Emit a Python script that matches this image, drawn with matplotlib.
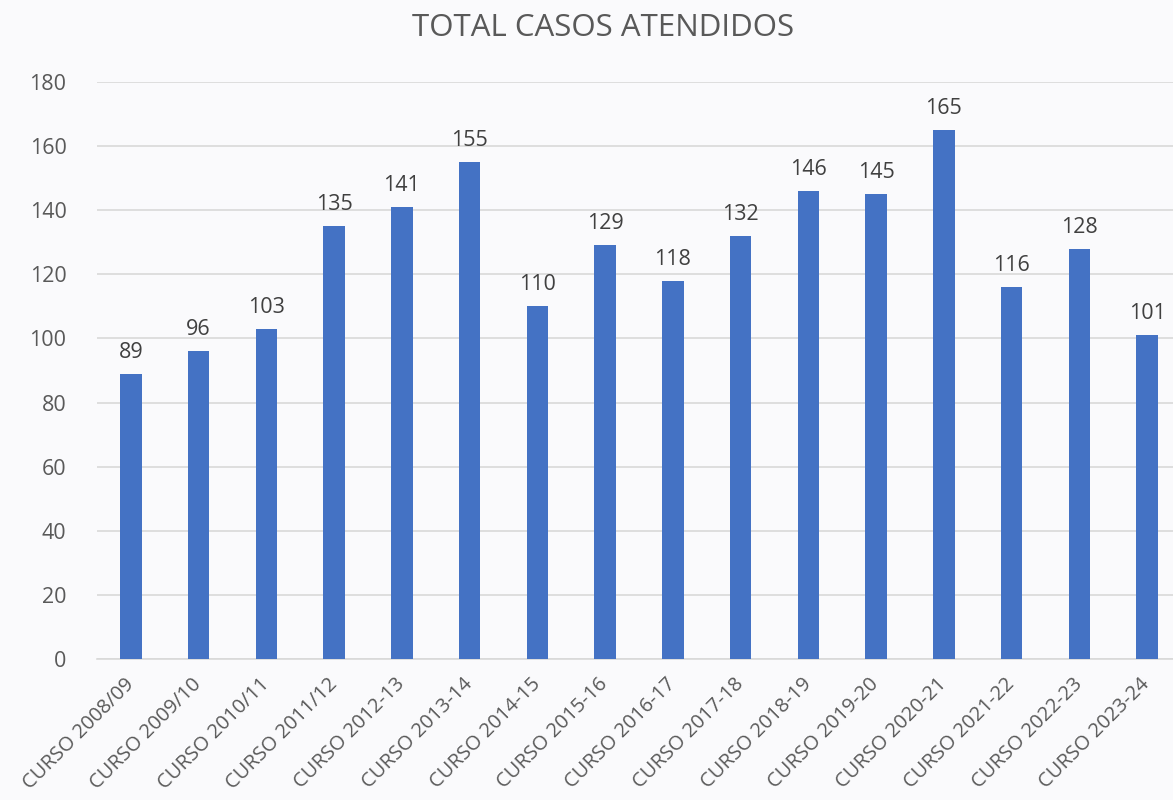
import matplotlib
matplotlib.use("Agg")
import matplotlib.pyplot as plt
import numpy as np

categories = ["CURSO 2008/09", "CURSO 2009/10", "CURSO 2010/11", "CURSO 2011/12",
              "CURSO 2012-13", "CURSO 2013-14", "CURSO 2014-15", "CURSO 2015-16",
              "CURSO 2016-17", "CURSO 2017-18", "CURSO 2018-19", "CURSO 2019-20",
              "CURSO 2020-21", "CURSO 2021-22", "CURSO 2022-23", "CURSO 2023-24"]
values = [89, 96, 103, 135, 141, 155, 110, 129, 118, 132, 146, 145, 165, 116, 128, 101]
yticks = [0, 20, 40, 60, 80, 100, 120, 140, 160, 180]
title = "TOTAL CASOS ATENDIDOS"

plt.rcParams['font.family'] = ['Open Sans', 'DejaVu Sans']
bg = '#FAFAFC'
fig = plt.figure(figsize=(11.73, 8.0), dpi=100, facecolor=bg)
ax = fig.add_axes([97/1173, 141/800, 1084/1173, 577/800], facecolor=bg)

x = np.arange(len(categories))
ax.bar(x, values, width=0.32, color='#4472C4', zorder=3)
ax.set_xlim(-0.5, len(categories) - 0.5)
ax.set_ylim(0, 180)
ax.set_yticks(yticks)
ax.yaxis.grid(True, color='#D9D9D9', linewidth=1.2, zorder=0)
ax.set_axisbelow(True)
for s in ['top', 'right', 'left']:
    ax.spines[s].set_visible(False)
ax.spines['bottom'].set_color('#D9D9D9')
ax.spines['bottom'].set_linewidth(1.2)
ax.tick_params(axis='y', length=0, colors='#595959', labelsize=15.5, pad=22)
ax.set_xticks(x)
ax.set_xticklabels(categories, rotation=45, ha='right', rotation_mode='anchor', va='center')
ax.tick_params(axis='x', length=0, colors='#595959', labelsize=14.5, pad=16)

for xi, v in zip(x, values):
    ax.annotate(str(v), (xi, v), xytext=(0, 8), textcoords='offset points',
                ha='center', va='bottom', fontsize=15.5, color='#404040')

fig.text(603/1173, 1 - 28/800, title, ha='center', va='center', fontsize=22.5, color='#595959')
fig.savefig('out.png', dpi=100, facecolor=bg)
